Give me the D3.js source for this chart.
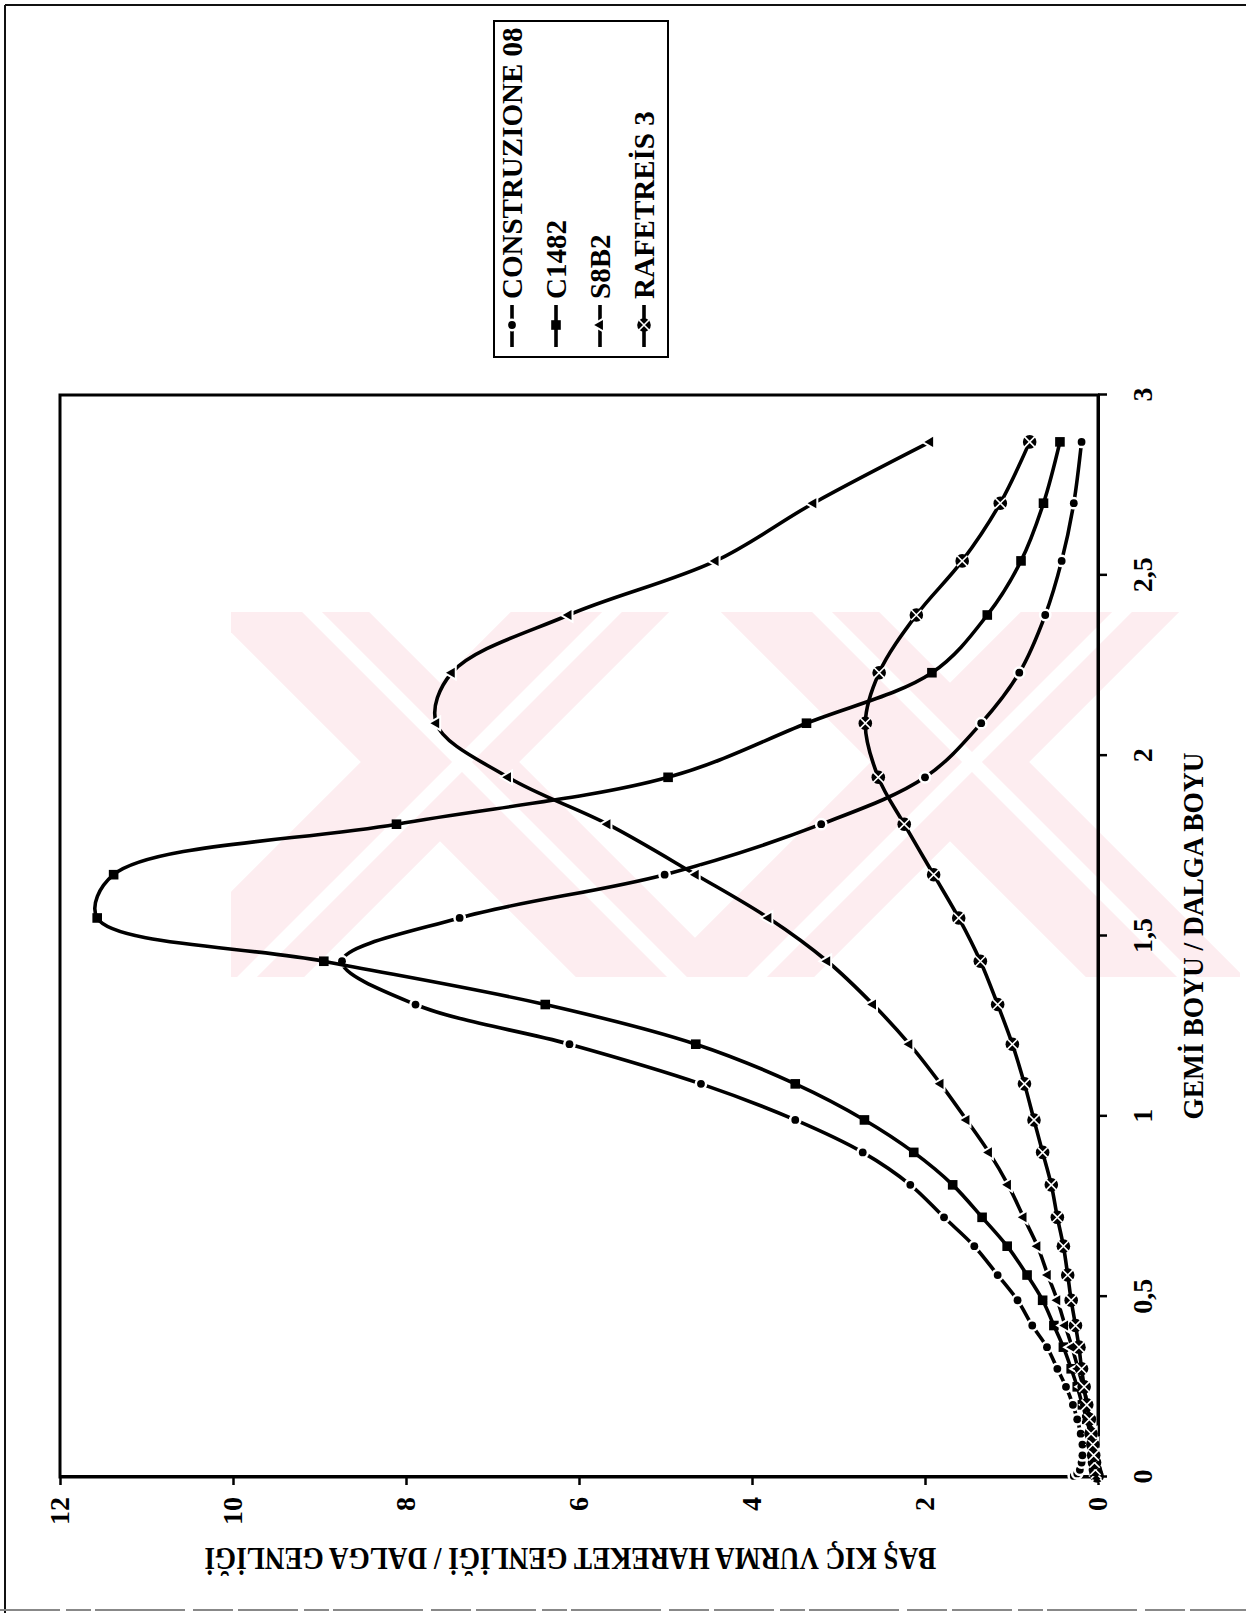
<!DOCTYPE html>
<meta charset="utf-8">
<style>
    body {
        margin: 0;
        background: #fff;
    }

    svg {
        display: block;
    }

    text {
        font-family: "Liberation Serif", "Times New Roman", serif;
        font-weight: bold;
        fill: #000;
    }
</style>
<svg width="1246" height="1613"></svg>
<script src="https://d3js.org/d3.v7.min.js"></script>
<script>
    // GEMİ BOYU / DALGA BOYU (ship length / wave length)
    var xVals = [0.003, 0.01, 0.02, 0.04, 0.06, 0.09, 0.12, 0.16, 0.20, 0.25, 0.30, 0.36, 0.42, 0.49, 0.56, 0.64, 0.72,
        0.81, 0.90, 0.99, 1.09, 1.20, 1.31, 1.43, 1.55, 1.67, 1.81, 1.94, 2.09, 2.23, 2.39, 2.54, 2.70, 2.87];

    var construzione = [0.28, 0.24, 0.21, 0.19, 0.18, 0.18, 0.20, 0.24, 0.29, 0.37, 0.47, 0.59, 0.76, 0.93, 1.16, 1.43,
        1.78, 2.17, 2.72, 3.50, 4.59, 6.11, 7.89, 8.74, 7.38, 5.01, 3.20, 2.00, 1.35, 0.91, 0.61, 0.42, 0.28, 0.19];

    var c1482 = [0.00, 0.01, 0.02, 0.03, 0.05, 0.07, 0.09, 0.13, 0.18, 0.24, 0.31, 0.40, 0.51, 0.64, 0.82, 1.05,
        1.34, 1.68, 2.13, 2.70, 3.50, 4.65, 6.39, 8.95, 11.57, 11.38, 8.11, 4.97, 3.37, 1.92, 1.28, 0.89, 0.63, 0.44];

    var s8b2 = [0.00, 0.00, 0.01, 0.01, 0.02, 0.04, 0.06, 0.09, 0.12, 0.17, 0.23, 0.30, 0.38, 0.47, 0.58, 0.70,
        0.86, 1.04, 1.26, 1.52, 1.82, 2.18, 2.60, 3.13, 3.81, 4.65, 5.67, 6.82, 7.65, 7.47, 6.12, 4.42, 3.29, 1.94];

    var rafetreis = [0.01, 0.02, 0.03, 0.04, 0.05, 0.06, 0.08, 0.10, 0.13, 0.16, 0.19, 0.22, 0.26, 0.31, 0.35, 0.40,
        0.47, 0.54, 0.64, 0.74, 0.85, 0.99, 1.16, 1.36, 1.61, 1.90, 2.24, 2.54, 2.69, 2.53, 2.10, 1.57, 1.13, 0.79];

    var seriesNames = ["CONSTRUZIONE 08", "C1482", "S8B2", "RAFETREİS 3"];
    var markerTypes = ["dot", "square", "triangle", "xcircle"];
    var xTicks = [0, 0.5, 1, 1.5, 2, 2.5, 3];
    var yTicks = [0, 2, 4, 6, 8, 10, 12];

    var allSeries = [construzione, c1482, s8b2, rafetreis];

    var svg = d3.select("svg"),
        width = +svg.attr("width"),
        height = +svg.attr("height");

    // page frame of the scanned sheet
    var frame = svg.append("g").attr("stroke", "#111").attr("fill", "none");
    frame.append("line").attr("x1", 5).attr("y1", 5).attr("x2", 5).attr("y2", height).attr("stroke-width", 2);
    frame.append("line").attr("x1", 5).attr("y1", 5).attr("x2", width).attr("y2", 5).attr("stroke-width", 2);
    frame.append("line").attr("x1", 0).attr("y1", 1610).attr("x2", width).attr("y2", 1610)
        .attr("stroke", "#888").attr("stroke-width", 2).attr("stroke-dasharray", "60 6 25 4 90 8 40 5");

    // faint watermark behind the chart: two crossed double bands
    var wm = svg.append("g");
    wm.append("clipPath").attr("id", "wmclip")
        .append("rect").attr("x", 231).attr("y", 612).attr("width", 1009).attr("height", 365);
    var crossCentres = [[440, 762], [950, 762]];
    var arms = [];
    crossCentres.forEach(function(c) {
        [-1, 1].forEach(function(dir) {
            arms.push({ cx: c[0], cy: c[1], dir: dir });
        });
    });
    var wmg = wm.append("g").attr("clip-path", "url(#wmclip)");
    wmg.selectAll("line.arm")
        .data(arms)
        .enter().append("line")
        .attr("class", "arm")
        .attr("x1", function(d) { return d.cx - 260; })
        .attr("y1", function(d) { return d.cy - 260 * d.dir; })
        .attr("x2", function(d) { return d.cx + 260; })
        .attr("y2", function(d) { return d.cy + 260 * d.dir; })
        .attr("stroke", "#fdedf0")
        .attr("stroke-width", 112);
    wmg.selectAll("line.gap")
        .data(arms)
        .enter().append("line")
        .attr("class", "gap")
        .attr("x1", function(d) { return d.cx - 260 + 22; })
        .attr("y1", function(d) { return d.cy - 260 * d.dir; })
        .attr("x2", function(d) { return d.cx + 260 + 22; })
        .attr("y2", function(d) { return d.cy + 260 * d.dir; })
        .attr("stroke", "#fff")
        .attr("stroke-width", 14);

    // the chart is printed turned a quarter turn counter-clockwise
    var g = svg.append("g")
        .attr("transform", "translate(0," + height + ") rotate(-90)");

    var x = d3.scaleLinear().domain([0, 3]).range([136, 1218]);
    var y = d3.scaleLinear().domain([0, 12]).range([1098, 60]);

    g.append("rect")
        .attr("x", x(0)).attr("y", y(12))
        .attr("width", x(3) - x(0)).attr("height", y(0) - y(12))
        .attr("fill", "none").attr("stroke", "#000").attr("stroke-width", 3);

    var fmt = function(d) { return String(d).replace(".", ","); };

    var xAxis = g.append("g")
        .attr("transform", "translate(0," + y(0) + ")")
        .call(d3.axisBottom(x).tickValues(xTicks).tickFormat(fmt).tickSize(9).tickSizeOuter(0).tickPadding(25));

    var yAxis = g.append("g")
        .attr("transform", "translate(" + x(0) + ",0)")
        .call(d3.axisLeft(y).tickValues(yTicks).tickSize(8).tickSizeOuter(0).tickPadding(12));

    [xAxis, yAxis].forEach(function(ax) {
        ax.attr("font-family", null).attr("font-size", 28);
        ax.select(".domain").attr("stroke-width", 3);
        ax.selectAll(".tick line").attr("stroke-width", 2.5);
    });

    g.append("text")
        .attr("x", x(1.5))
        .attr("y", 1203)
        .attr("text-anchor", "middle")
        .attr("font-size", 30)
        .attr("textLength", 367)
        .attr("lengthAdjust", "spacingAndGlyphs")
        .text("GEMİ BOYU / DALGA BOYU");

    g.append("text")
        .attr("transform", "translate(65," + y(6.1) + ") rotate(-90)")
        .attr("text-anchor", "middle")
        .attr("font-size", 31)
        .attr("textLength", 732)
        .attr("lengthAdjust", "spacingAndGlyphs")
        .text("BAŞ KIÇ VURMA HAREKET GENLİĞİ / DALGA GENLİĞİ");

    var line = d3.line()
        .x(function(d) { return x(d[0]); })
        .y(function(d) { return y(d[1]); })
        .curve(d3.curveCatmullRom.alpha(0.5));

    function drawMarker(sel, type) {
        if (type === "dot") {
            sel.append("circle").attr("r", 3.9)
                .attr("fill", "#000").attr("stroke", "#fff").attr("stroke-width", 5)
                .attr("paint-order", "stroke");
        } else if (type === "square") {
            sel.append("rect").attr("x", -4.8).attr("y", -4.8).attr("width", 9.6).attr("height", 9.6)
                .attr("fill", "#000");
        } else if (type === "triangle") {
            sel.append("path").attr("d", d3.symbol(d3.symbolTriangle, 44)())
                .attr("fill", "#000").attr("stroke", "#fff").attr("stroke-width", 4)
                .attr("paint-order", "stroke");
        } else {
            sel.append("circle").attr("r", 6.8).attr("fill", "#000");
            sel.append("path").attr("d", "M-5.2,-5.2L5.2,5.2M-5.2,5.2L5.2,-5.2")
                .attr("stroke", "#fff").attr("stroke-width", 1.6);
        }
    }

    allSeries.forEach(function(vals, i) {
        var pts = xVals.map(function(xv, j) { return [xv, vals[j]]; });

        g.append("path")
            .datum(pts)
            .attr("fill", "none")
            .attr("stroke", "#000")
            .attr("stroke-width", 3.6)
            .attr("d", line);

        var m = g.append("g").selectAll("g")
            .data(pts)
            .enter().append("g")
            .attr("transform", function(d) { return "translate(" + x(d[0]) + "," + y(d[1]) + ")"; });
        drawMarker(m, markerTypes[i]);
    });

    // legend
    var lg = g.append("g");
    lg.append("rect")
        .attr("x", 1256).attr("y", 494).attr("width", 336).attr("height", 174)
        .attr("fill", "#fff").attr("stroke", "#000").attr("stroke-width", 2);

    var item = lg.selectAll(".item")
        .data(seriesNames)
        .enter().append("g")
        .attr("class", "item")
        .attr("transform", function(d, i) { return "translate(0," + (512 + i * 44) + ")"; });

    item.append("line")
        .attr("x1", 1266).attr("x2", 1308)
        .attr("stroke", "#000").attr("stroke-width", 3.6);

    item.each(function(d, i) {
        var s = d3.select(this).append("g").attr("transform", "translate(1288,0)");
        drawMarker(s, markerTypes[i]);
    });

    item.append("text")
        .attr("x", 1314)
        .attr("dy", "0.35em")
        .attr("font-size", 29)
        .text(function(d) { return d; });
</script>
